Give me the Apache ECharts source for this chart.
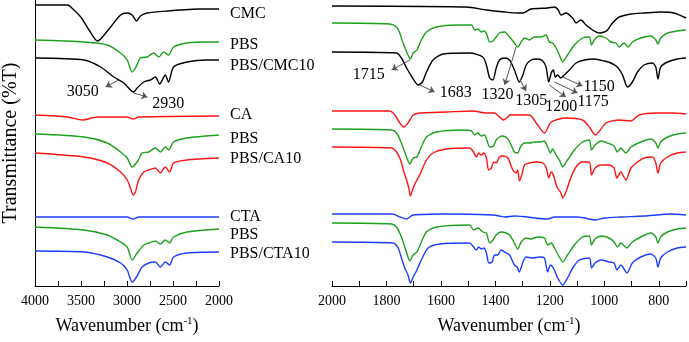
<!DOCTYPE html>
<html>
<head>
<meta charset="utf-8">
<script src="https://cdn.jsdelivr.net/npm/echarts@6/dist/echarts.min.js"></script>
<style>html,body{margin:0;padding:0;background:#fff}#c{width:689px;height:342px}</style>
</head>
<body>
<div id="c"></div>
<script>
// ---------- DATA (wavenumber cm-1, offset transmittance in arbitrary units) ----------
const leftTickLabels = [4000, 3500, 3000, 2500, 2000];
const rightTickLabels = [2000, 1800, 1600, 1400, 1200, 1000, 800];
const sampleNames = ['CMC', 'PBS', 'PBS/CMC10', 'CA', 'PBS', 'PBS/CA10', 'CTA', 'PBS', 'PBS/CTA10'];

// Left panel (4000-2000 cm-1)
const L_CMC = [[4000,281],[3643,281],[3611,279],[3503,269],[3413,256],[3322,245],[3287,247],[3178,259],[3070,271],[2998,273],[2944,271],[2897,265],[2854,270],[2782,273],[2566,275],[2205,277],[2000,277]];
const L_PBS1 = [[4000,246],[3467,244],[3214,241],[3070,233],[2998,226],[2944,214],[2908,218],[2854,228],[2782,229],[2710,233],[2656,229],[2602,234],[2548,231],[2494,239],[2349,243],[2133,244],[2000,244]];
const L_PBSCMC = [[4000,228],[3467,226],[3287,219],[3143,209],[3035,203],[2927,194],[2890,198],[2818,204],[2746,206],[2692,209],[2645,202],[2584,211],[2548,204],[2494,219],[2349,224],[2133,226],[2000,226]];
const L_CA = [[4000,171],[3647,169],[3484,166],[3322,169],[2998,169],[2933,167],[2873,169],[2000,170]];
const L_PBS2 = [[4000,152],[3467,149],[3214,143],[3070,134],[2998,128],[2944,119],[2890,124],[2836,133],[2764,134],[2692,138],[2638,134],[2584,139],[2548,136],[2494,144],[2349,148],[2000,151]];
const L_PBSCA = [[4000,133],[3467,129],[3214,123],[3070,114],[2998,106],[2962,98],[2933,91],[2908,94],[2873,106],[2818,114],[2764,116],[2692,118],[2638,113],[2584,119],[2537,114],[2494,123],[2349,126],[2000,128]];
const L_CTA = [[4000,69],[2998,69],[2933,67],[2873,69],[2000,69]];
const L_PBS3 = [[4000,59],[3467,56],[3214,51],[3070,44],[2998,39],[2944,26],[2890,33],[2818,41],[2764,43],[2692,45],[2638,42],[2584,46],[2537,43],[2494,49],[2349,54],[2000,57]];
const L_PBSCTA = [[4000,35],[3467,34],[3214,29],[3070,23],[2998,16],[2944,4],[2897,9],[2836,19],[2764,23],[2692,24],[2638,19],[2584,24],[2537,21],[2494,29],[2349,33],[2000,34]];

// Right panel (2000-700 cm-1)
const R_CMC = [[2000,280],[1507,279],[1433,276],[1366,274],[1318,273],[1299,273],[1269,277],[1208,278],[1183,279],[1169,276],[1159,271],[1141,273],[1116,268],[1104,263],[1086,266],[1067,261],[1043,256],[1019,253],[1000,254],[988,256],[970,263],[945,269],[902,272],[854,273],[793,274],[744,273],[700,268]];
const R_PBS1 = [[2000,263],[1788,262],[1763,259],[1751,253],[1739,243],[1721,231],[1712,227],[1702,233],[1688,236],[1672,246],[1653,254],[1617,259],[1543,261],[1488,261],[1476,256],[1464,257],[1452,254],[1440,255],[1431,251],[1421,244],[1409,245],[1397,249],[1385,253],[1366,254],[1348,249],[1330,243],[1318,239],[1305,244],[1293,248],[1275,246],[1257,249],[1232,249],[1214,251],[1202,244],[1190,243],[1177,238],[1165,231],[1153,224],[1135,231],[1110,241],[1080,248],[1055,249],[1047,241],[1037,246],[1019,250],[994,248],[976,244],[957,243],[945,239],[927,243],[912,239],[897,244],[866,248],[829,250],[811,246],[803,242],[793,248],[768,253],[732,255],[700,256]];
const R_PBSCMC = [[2000,234],[1763,233],[1745,228],[1726,218],[1704,208],[1684,201],[1668,204],[1653,214],[1629,226],[1592,232],[1495,233],[1446,229],[1433,221],[1421,208],[1409,206],[1397,218],[1385,226],[1366,228],[1348,226],[1330,216],[1312,204],[1299,211],[1287,221],[1269,226],[1245,227],[1226,225],[1214,219],[1204,204],[1195,213],[1187,216],[1180,209],[1171,211],[1161,208],[1147,211],[1128,216],[1104,223],[1073,226],[1037,227],[1000,225],[976,223],[952,219],[933,211],[915,199],[897,204],[878,214],[854,221],[823,223],[811,219],[803,207],[793,219],[768,224],[732,227],[700,228]];
const R_CA = [[2000,175],[1788,175],[1769,171],[1751,163],[1736,159],[1721,163],[1702,171],[1678,173],[1580,174],[1483,175],[1433,173],[1403,173],[1385,169],[1370,166],[1354,169],[1348,171],[1275,171],[1250,163],[1220,153],[1195,164],[1141,168],[1080,166],[1055,159],[1033,151],[994,163],[945,166],[902,165],[872,171],[811,173],[750,173],[700,172]];
const R_PBS2 = [[2000,157],[1781,156],[1763,153],[1745,143],[1729,131],[1714,122],[1702,128],[1688,129],[1672,139],[1653,149],[1617,154],[1519,156],[1488,155],[1476,151],[1464,153],[1452,150],[1440,151],[1431,146],[1421,139],[1407,140],[1397,146],[1385,149],[1373,150],[1354,147],[1342,141],[1330,134],[1318,133],[1308,139],[1293,143],[1275,143],[1257,144],[1232,144],[1220,145],[1208,139],[1198,133],[1190,137],[1177,131],[1165,126],[1153,119],[1135,126],[1110,136],[1080,144],[1055,146],[1047,136],[1034,141],[1012,145],[988,143],[964,140],[952,134],[939,138],[921,133],[902,139],[866,144],[829,147],[811,143],[803,138],[793,144],[768,149],[732,152],[700,153]];
const R_PBSCA = [[2000,139],[1781,138],[1763,134],[1748,126],[1736,114],[1726,106],[1718,98],[1712,90],[1702,98],[1692,104],[1678,111],[1653,126],[1629,133],[1580,137],[1495,138],[1480,134],[1470,129],[1461,133],[1452,131],[1443,133],[1433,128],[1425,116],[1415,118],[1406,124],[1397,123],[1385,129],[1373,130],[1354,128],[1336,116],[1324,113],[1318,116],[1312,105],[1303,111],[1293,121],[1275,123],[1250,124],[1226,123],[1214,119],[1204,108],[1195,114],[1187,111],[1174,99],[1159,93],[1153,88],[1141,94],[1122,109],[1104,119],[1080,124],[1055,124],[1047,111],[1034,118],[1012,121],[982,121],[964,118],[954,108],[939,114],[921,106],[902,118],[878,124],[854,128],[823,129],[811,123],[803,113],[793,123],[768,129],[732,133],[700,134]];
const R_CTA = [[2000,72],[1776,72],[1751,69],[1726,67],[1702,71],[1580,72],[1409,71],[1385,70],[1366,69],[1330,70],[1208,67],[1183,69],[1098,69],[1031,66],[1000,68],[939,69],[854,70],[756,72],[700,71]];
const R_PBS3 = [[2000,63],[1781,62],[1763,59],[1745,49],[1729,36],[1714,25],[1702,31],[1688,34],[1672,44],[1653,54],[1617,59],[1495,61],[1480,56],[1464,58],[1446,54],[1433,53],[1421,43],[1409,46],[1397,51],[1379,54],[1360,53],[1348,51],[1330,43],[1318,37],[1305,44],[1287,48],[1269,47],[1245,49],[1220,48],[1208,41],[1195,43],[1183,38],[1165,29],[1153,24],[1135,31],[1110,41],[1080,49],[1055,50],[1047,41],[1034,47],[1012,50],[982,48],[964,44],[952,39],[939,43],[917,38],[897,44],[866,49],[829,53],[811,49],[803,43],[793,49],[768,54],[732,57],[700,58]];
const R_PBSCTA = [[2000,44],[1776,43],[1757,38],[1745,28],[1733,18],[1721,11],[1712,3],[1702,9],[1688,16],[1672,26],[1647,38],[1604,42],[1495,43],[1480,39],[1470,36],[1461,39],[1451,37],[1442,38],[1433,33],[1424,23],[1412,24],[1403,31],[1391,31],[1379,36],[1360,33],[1348,31],[1330,21],[1320,19],[1312,14],[1299,24],[1287,29],[1263,28],[1238,29],[1220,28],[1208,14],[1198,21],[1187,18],[1171,8],[1153,1],[1135,8],[1116,18],[1092,26],[1055,28],[1047,18],[1034,23],[1012,26],[982,24],[964,23],[954,16],[939,21],[917,13],[897,23],[866,29],[829,32],[811,28],[803,19],[793,28],[768,34],[732,38],[700,39]];

// Peak annotations: label, arrow start (on curve), arrow end, text position
const leftNotes = [
  { text: '3050', from: [3092, 206], to: [3232, 199], at: [3481, 194] },
  { text: '2930', from: [2927, 193], to: [2778, 189], at: [2551, 182] }
];
const rightNotes = [
  { text: '1715', from: [1714, 226], to: [1781, 216], at: [1865, 211] },
  { text: '1683', from: [1678, 201], to: [1623, 194], at: [1546, 193] },
  { text: '1320', from: [1324, 239], to: [1366, 201], at: [1392, 191] },
  { text: '1305', from: [1309, 206], to: [1287, 195], at: [1268, 185] },
  { text: '1200', from: [1202, 201], to: [1141, 189], at: [1158, 179] },
  { text: '1175', from: [1183, 204], to: [1098, 193], at: [1041, 184] },
  { text: '1150', from: [1153, 209], to: [1080, 200], at: [1019, 199] }
];

// ---------- CHART ----------
const FONT = "'Liberation Serif','Times New Roman',serif";
const BLACK = '#000000', GREEN = '#1ea01e', RED = '#ff1414', BLUE = '#1e3cff';
const colorsBySample = [BLACK, GREEN, BLACK, RED, GREEN, RED, BLUE, GREEN, BLUE];
const labelY = [14, 45, 66, 115, 139, 159, 217, 235, 254];
const leftSets = [L_CMC, L_PBS1, L_PBSCMC, L_CA, L_PBS2, L_PBSCA, L_CTA, L_PBS3, L_PBSCTA];
const rightSets = [R_CMC, R_PBS1, R_PBSCMC, R_CA, R_PBS2, R_PBSCA, R_CTA, R_PBS3, R_PBSCTA];

function notesMarks(notes) {
  return {
    markLine: {
      silent: true, animation: false,
      symbol: ['none', 'arrow'], symbolSize: 6,
      lineStyle: { color: '#555', width: 1, type: 'solid' },
      label: { show: false },
      data: notes.map(n => [{ coord: n.from }, { coord: n.to }])
    },
    markPoint: {
      silent: true, animation: false,
      symbol: 'rect', symbolSize: 1,
      itemStyle: { color: 'rgba(0,0,0,0)' },
      label: { show: true, position: 'inside', color: '#000', fontFamily: FONT, fontSize: 16 },
      data: notes.map(n => ({ coord: n.at, value: n.text, label: { formatter: n.text } }))
    }
  };
}

const series = [];
leftSets.forEach((d, i) => {
  const s = { type: 'line', name: sampleNames[i], xAxisIndex: 0, yAxisIndex: 0, data: d, showSymbol: false,
    smooth: 0.25, lineStyle: { width: 1.4, color: colorsBySample[i] }, itemStyle: { color: colorsBySample[i] }, z: 3 };
  if (i === 2) Object.assign(s, notesMarks(leftNotes));
  series.push(s);
});
rightSets.forEach((d, i) => {
  const s = { type: 'line', name: sampleNames[i] + ' ', xAxisIndex: 1, yAxisIndex: 1, data: d, showSymbol: false,
    smooth: 0.25, lineStyle: { width: 1.4, color: colorsBySample[i] }, itemStyle: { color: colorsBySample[i] }, z: 3 };
  if (i === 2) Object.assign(s, notesMarks(rightNotes));
  series.push(s);
});

const axisName = 'Wavenumber (cm{sup|-1})';
const nameStyle = { fontFamily: FONT, fontSize: 18, color: '#000', rich: { sup: { fontFamily: FONT, fontSize: 11, color: '#000', padding: [0, 0, 9, 0] } } };

const chart = echarts.init(document.getElementById('c'));
chart.setOption({
  animation: false,
  backgroundColor: '#fff',
  grid: [
    { left: 34, top: 0, width: 185, height: 286 },
    { left: 332, top: 0, width: 355, height: 286 }
  ],
  xAxis: [
    { gridIndex: 0, type: 'value', min: 2000, max: 4000, interval: 250, inverse: true,
      axisLine: { show: true, onZero: false, lineStyle: { color: '#000', width: 1 } },
      axisTick: { show: true, inside: true, length: 5, lineStyle: { color: '#000' } },
      axisLabel: { fontFamily: FONT, fontSize: 14, color: '#000', margin: 8,
        formatter: v => leftTickLabels.includes(v) ? String(v) : '' },
      splitLine: { show: false },
      name: axisName, nameLocation: 'middle', nameGap: 30, nameTextStyle: nameStyle },
    { gridIndex: 1, type: 'value', min: 700, max: 2000, interval: 100, inverse: true,
      axisLine: { show: true, onZero: false, lineStyle: { color: '#000', width: 1 } },
      axisTick: { show: true, inside: true, length: 5, lineStyle: { color: '#000' } },
      axisLabel: { fontFamily: FONT, fontSize: 14, color: '#000', margin: 8, showMinLabel: true, showMaxLabel: true,
        formatter: v => rightTickLabels.includes(v) ? String(v) : '' },
      splitLine: { show: false },
      name: axisName, nameLocation: 'middle', nameGap: 30, nameTextStyle: nameStyle }
  ],
  yAxis: [
    { gridIndex: 0, type: 'value', min: 0, max: 286,
      axisLine: { show: true, lineStyle: { color: '#000', width: 1 } },
      axisTick: { show: false }, axisLabel: { show: false }, splitLine: { show: false },
      name: 'Transmittance (%T)', nameLocation: 'middle', nameGap: 14,
      nameTextStyle: { fontFamily: FONT, fontSize: 20, color: '#000' } },
    { gridIndex: 1, type: 'value', min: 0, max: 286, show: false }
  ],
  graphic: sampleNames.map((n, i) => ({
    type: 'text', left: 230, top: labelY[i] - 8, silent: true,
    style: { text: n, fontFamily: FONT, fontSize: 16, fill: '#000' }
  })),
  series: series
});
</script>
</body>
</html>
